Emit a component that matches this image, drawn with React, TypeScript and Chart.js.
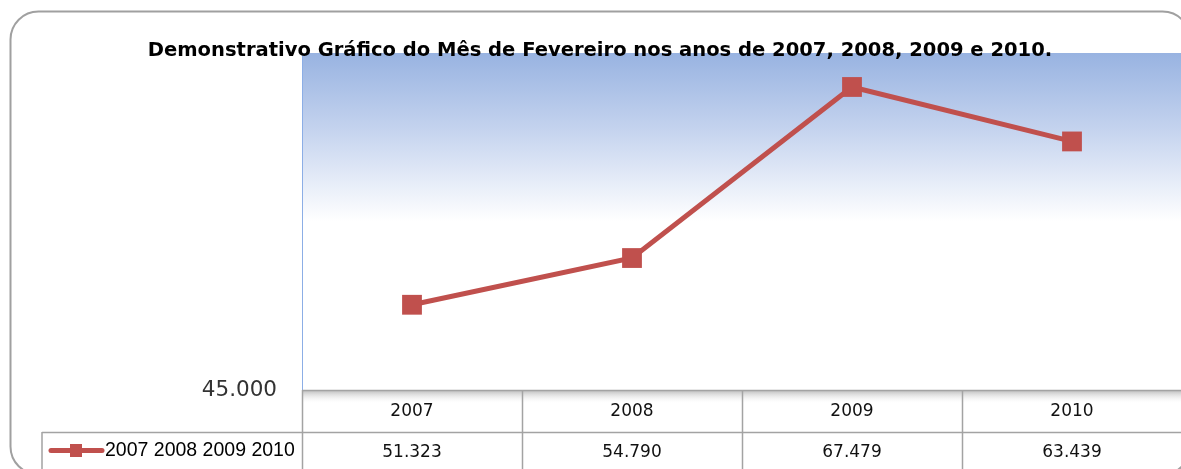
import React, { useEffect, useRef } from 'react';
import { Chart, registerables } from 'chart.js';

Chart.register(...registerables);

const categories: string[] = ['2007', '2008', '2009', '2010'];
const values: number[] = [51323, 54790, 67479, 63439];
const seriesName = '2007 2008 2009 2010';
const titleText = 'Demonstrativo Gráfico do Mês de Fevereiro nos anos de 2007, 2008, 2009 e 2010.';
const yMin = 45000;
const yMax = 70000;
const yTickValues: number[] = [45000];

const LINE_COLOR = '#c0504d';
const GRID_COLOR = '#a3a3a3';

const fmt = (v: number) => String(v).replace(/\B(?=(\d{3})+(?!\d))/g, '.');

const decorPlugin = {
  id: 'decor',
  beforeDraw(chart: any) {
    const { ctx, chartArea } = chart;
    const { left, top, right, bottom } = chartArea;
    ctx.save();
    ctx.fillStyle = '#ffffff';
    ctx.fillRect(0, 0, chart.width, chart.height);

    // outer rounded border
    const bx = 10.5, by = 11.5, bw = 1180, bh = 463, r = 28;
    ctx.beginPath();
    ctx.moveTo(bx + r, by);
    ctx.lineTo(bx + bw - r, by);
    ctx.arcTo(bx + bw, by, bx + bw, by + r, r);
    ctx.lineTo(bx + bw, by + bh - r);
    ctx.arcTo(bx + bw, by + bh, bx + bw - r, by + bh, r);
    ctx.lineTo(bx + r, by + bh);
    ctx.arcTo(bx, by + bh, bx, by + bh - r, r);
    ctx.lineTo(bx, by + r);
    ctx.arcTo(bx, by, bx + r, by, r);
    ctx.closePath();
    ctx.strokeStyle = '#a0a0a0';
    ctx.lineWidth = 2;
    ctx.stroke();

    // plot area gradient
    const g = ctx.createLinearGradient(0, top, 0, bottom);
    g.addColorStop(0, '#98b3e1');
    g.addColorStop(0.22, '#c3d2ee');
    g.addColorStop(0.5, '#ffffff');
    g.addColorStop(1, '#ffffff');
    ctx.fillStyle = g;
    ctx.fillRect(left, top, right - left, bottom - top);

    // left blue edge
    ctx.strokeStyle = '#8caee6';
    ctx.lineWidth = 1;
    ctx.beginPath();
    ctx.moveTo(left + 0.5, top);
    ctx.lineTo(left + 0.5, bottom);
    ctx.stroke();
    ctx.restore();
  },
  afterDatasetsDraw(chart: any) {
    const { ctx, chartArea } = chart;
    const { left, bottom } = chartArea;
    const xs = chart.scales.x;
    const step = xs.getPixelForValue(1) - xs.getPixelForValue(0);
    const headerTop = bottom;
    const rowTop = bottom + 42;
    const tableBottom = chart.height;
    const legendLeft = 42;
    ctx.save();

    // header shadow
    const sg = ctx.createLinearGradient(0, headerTop, 0, headerTop + 14);
    sg.addColorStop(0, 'rgba(140,140,140,0.6)');
    sg.addColorStop(1, 'rgba(255,255,255,0)');
    ctx.fillStyle = sg;
    ctx.fillRect(left, headerTop, chart.width - left, 14);

    ctx.strokeStyle = GRID_COLOR;
    ctx.lineWidth = 1.5;
    ctx.beginPath();
    ctx.moveTo(left, headerTop + 0.5);
    ctx.lineTo(chart.width, headerTop + 0.5);
    ctx.moveTo(legendLeft, rowTop + 0.5);
    ctx.lineTo(chart.width, rowTop + 0.5);
    ctx.moveTo(legendLeft, rowTop);
    ctx.lineTo(legendLeft, tableBottom);
    for (let i = 0; i <= categories.length; i++) {
      const x = Math.round(left + i * step) + 0.5;
      ctx.moveTo(x, headerTop);
      ctx.lineTo(x, tableBottom);
    }
    ctx.stroke();

    // table text
    ctx.fillStyle = '#111111';
    ctx.textAlign = 'center';
    ctx.textBaseline = 'middle';
    ctx.font = '17px "DejaVu Sans"';
    categories.forEach((c, i) => {
      const cx = xs.getPixelForValue(i);
      ctx.fillText(c, cx, headerTop + 22);
      ctx.fillText(fmt(values[i]), cx, rowTop + 21);
    });

    // legend key
    const ly = rowTop + 18.5;
    ctx.strokeStyle = LINE_COLOR;
    ctx.lineWidth = 5;
    ctx.lineCap = 'round';
    ctx.beginPath();
    ctx.moveTo(51, ly);
    ctx.lineTo(102, ly);
    ctx.stroke();
    ctx.fillStyle = LINE_COLOR;
    ctx.fillRect(70, ly - 6.5, 12, 13);
    ctx.fillStyle = '#000000';
    ctx.textAlign = 'left';
    ctx.font = '19.5px "Liberation Sans"';
    ctx.fillText(seriesName, 105, ly);

    // title
    const base = 20;
    ctx.font = `bold ${base}px "DejaVu Sans"`;
    const w = ctx.measureText(titleText).width;
    const size = (base * 905) / w;
    ctx.font = `bold ${size}px "DejaVu Sans"`;
    ctx.textAlign = 'center';
    ctx.fillStyle = '#000000';
    ctx.fillText(titleText, 600, 51);
    ctx.restore();
  },
};

export default function App() {
  const ref = useRef<HTMLCanvasElement | null>(null);
  useEffect(() => {
    if (!ref.current) return;
    const chart = new Chart(ref.current, {
      type: 'line',
      data: {
        labels: categories,
        datasets: [
          {
            label: seriesName,
            data: values,
            borderColor: LINE_COLOR,
            backgroundColor: LINE_COLOR,
            borderWidth: 5,
            pointStyle: 'rect',
            pointRadius: 14,
            pointBackgroundColor: LINE_COLOR,
            pointBorderColor: LINE_COLOR,
            pointBorderWidth: 0,
            tension: 0,
          },
        ],
      },
      options: {
        responsive: false,
        animation: false,
        devicePixelRatio: 1,
        layout: { padding: { left: 0, top: 53, right: 18, bottom: 90 } },
        plugins: { legend: { display: false }, tooltip: { enabled: false }, title: { display: false } },
        scales: {
          x: { type: 'category', offset: true, display: false },
          y: {
            min: yMin,
            max: yMax,
            grid: { display: false, drawTicks: false },
            border: { display: false },
            afterBuildTicks: (s: any) => {
              s.ticks = yTickValues.map((v) => ({ value: v }));
            },
            afterFit: (s: any) => {
              s.width = 302;
            },
            ticks: {
              padding: 25,
              color: '#333333',
              font: { family: 'DejaVu Sans', size: 21.5 },
              callback: (v: any) => fmt(Number(v)),
            },
          },
        },
      },
      plugins: [decorPlugin],
    });
    return () => chart.destroy();
  }, []);
  return (
    <div style={{ position: 'absolute', left: 0, top: 0, width: 1181, height: 469, overflow: 'hidden', background: '#fff' }}>
      <canvas ref={ref} width={1200} height={480} style={{ display: 'block' }} />
    </div>
  );
}
